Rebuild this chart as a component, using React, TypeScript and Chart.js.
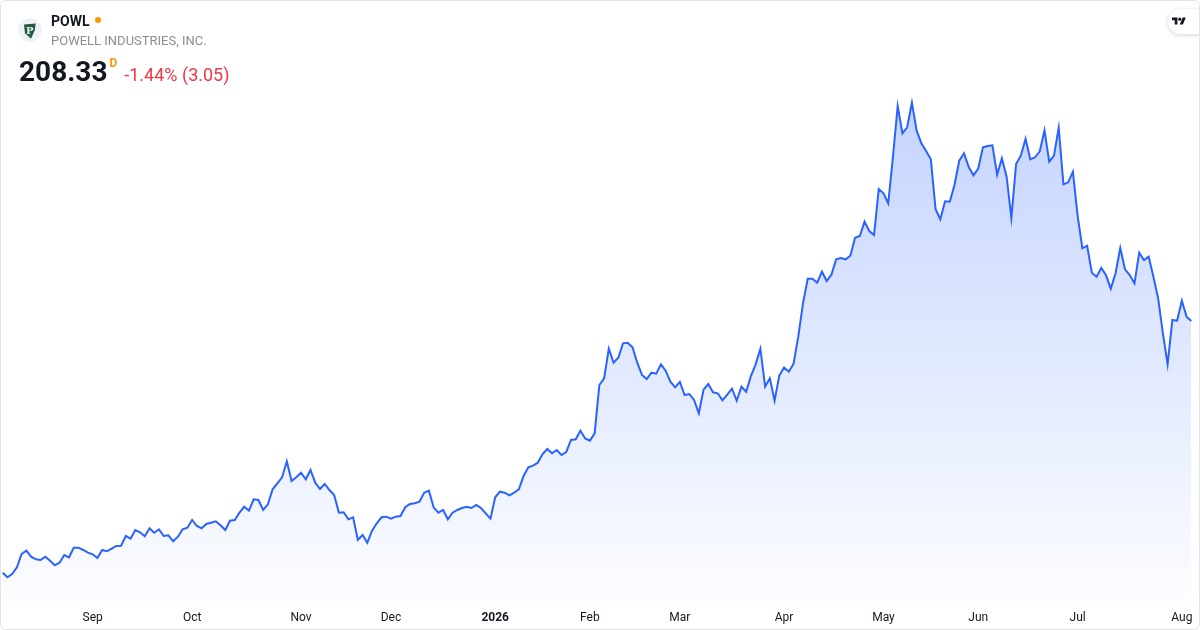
import React, { useEffect, useRef } from "react";
import { Chart, registerables } from "chart.js";

Chart.register(...registerables);

const ticker = "POWL";
const companyName = "POWELL INDUSTRIES, INC.";
const lastPrice = "208.33";
const changeText = "-1.44% (3.05)";

const prices: number[] = [
  32.14, 28.92, 31.23, 35.92, 45.23, 47.54, 43.34, 41.52, 41.03, 43.34,
  40.54, 37.32, 39.14, 44.53, 42.92, 49.64, 49.64, 48.03, 46.14, 45.02,
  42.43, 48.03, 47.12, 48.94, 50.83, 51.04, 57.83, 55.94, 62.03, 60.42,
  57.62, 63.22, 60.14, 62.52, 57.83, 58.32, 54.12, 57.34, 62.52, 63.64,
  69.03, 64.83, 63.22, 66.23, 67.14, 68.12, 65.32, 62.03, 68.54, 69.03,
  74.14, 78.34, 75.54, 83.52, 83.03, 76.03, 80.02, 90.52, 94.72, 98.92,
  110.12, 96.33, 98.92, 102.14, 97.52, 104.03, 95.14, 90.73, 94.23, 90.03,
  86.53, 74.14, 74.42, 69.52, 70.92, 55.03, 58.53, 53.14, 61.54, 66.72,
  70.92, 71.34, 69.94, 71.34, 71.83, 77.92, 80.23, 80.72, 81.84, 88.14,
  89.54, 77.92, 74.14, 76.03, 69.52, 74.14, 76.03, 77.43, 78.34, 77.43,
  79.53, 77.43, 73.72, 69.94, 84.92, 88.84, 88.14, 86.32, 88.14, 90.52,
  99.83, 105.92, 107.04, 109.14, 115.23, 118.73, 115.72, 118.03, 114.53, 116.63,
  125.03, 125.52, 131.54, 126.08, 124.54, 129.72, 163.53, 168.22, 188.94, 179.14,
  182.64, 192.72, 193.14, 189.92, 179.14, 170.53, 167.73, 172.14, 171.44, 178.02,
  173.54, 165.84, 161.92, 165.63, 156.53, 157.23, 153.03, 143.72, 160.24, 164.23,
  158.42, 157.72, 152.82, 156.74, 160.94, 152.54, 162.34, 158.84, 169.83, 178.02,
  188.94, 162.34, 168.22, 152.54, 170.18, 175.78, 172.84, 178.23, 197.34, 220.72,
  237.94, 237.94, 235.14, 242.84, 236.33, 240.74, 251.52, 252.43, 251.52, 254.04,
  266.64, 267.83, 277.84, 271.33, 268.53, 300.73, 297.72, 290.72, 323.34, 358.83,
  339.72, 343.92, 361.14, 341.54, 332.72, 327.33, 321.52, 286.52, 279.52, 292.12,
  291.84, 303.74, 320.54, 325.72, 316.13, 310.32, 315.08, 329.92, 330.83, 331.32,
  310.74, 322.22, 309.34, 280.43, 318.23, 324.04, 335.94, 321.52, 322.92, 327.12,
  341.82, 319.84, 324.04, 343.64, 304.02, 305.42, 312.84, 281.83, 259.22, 261.04,
  242.14, 239.34, 245.43, 240.32, 230.94, 241.72, 259.43, 244.52, 240.53, 234.72,
  256.14, 251.03, 253.34, 239.34, 224.22, 199.72, 178.02, 209.03, 208.54, 222.54,
  211.38, 208.33,
];

// index of the first trading day of each month, and its axis label
const monthStartIndex: number[] = [19, 40, 63, 82, 104, 124, 143, 165, 186, 206, 227, 249];
const monthLabels: string[] = ["Sep", "Oct", "Nov", "Dec", "2026", "Feb", "Mar", "Apr", "May", "Jun", "Jul", "Aug"];
const boldLabels: string[] = ["2026"];

const yMin = 10.23;
const yMax = 370.03;

const FONT = "Roboto, 'Open Sans', sans-serif";

function TVLogo() {
  return (
    <svg width="14" height="11" viewBox="0 0 36 28" style={{ position: "absolute", left: 1172, top: 16 }}>
      <path d="M14 22H7V11H0V4h14v18zM28 22h-8l7.5-18h8L28 22z" fill="#131722" />
      <circle cx="20" cy="8" r="4" fill="#131722" />
    </svg>
  );
}

function CompanyLogo() {
  return (
    <svg width="24" height="24" viewBox="0 0 24 24" style={{ position: "absolute", left: 18, top: 18 }}>
      <circle cx="12" cy="12" r="11.7" fill="#eef1f6" />
      <path d="M6 6.6 L17.6 5.6 L16.8 12.2 L13 20.7 L7 15.2 Z" fill="#1d5c42" />
      <text x="11.8" y="16" textAnchor="middle" fontSize="10" fontWeight="bold" fill="#eef2ee" fontFamily="'DejaVu Serif', serif">P</text>
    </svg>
  );
}

export default function App() {
  const canvasRef = useRef<HTMLCanvasElement | null>(null);

  useEffect(() => {
    const canvas = canvasRef.current;
    if (!canvas) return;
    const labels = prices.map((_, i) => String(i));
    const chart = new Chart(canvas, {
      type: "line",
      data: {
        labels,
        datasets: [
          {
            data: prices,
            borderColor: "#2962ff",
            borderWidth: 2,
            pointRadius: 0,
            pointHoverRadius: 0,
            tension: 0,
            fill: "start",
            backgroundColor: (ctx: any) => {
              const { chart } = ctx;
              const area = chart.chartArea;
              if (!area) return "rgba(41,98,255,0.1)";
              const g = chart.ctx.createLinearGradient(0, area.top, 0, area.bottom);
              g.addColorStop(0, "rgba(41,98,255,0.28)");
              g.addColorStop(1, "rgba(41,98,255,0.01)");
              return g;
            },
          },
        ],
      },
      options: {
        animation: false,
        responsive: false,
        devicePixelRatio: 1,
        layout: { padding: { left: 2.7, right: 8.7, top: 90, bottom: 0.6 } },
        plugins: { legend: { display: false }, tooltip: { enabled: false } },
        scales: {
          x: {
            type: "category",
            grid: { display: false, drawTicks: false },
            border: { display: false },
            ticks: {
              autoSkip: false,
              maxRotation: 0,
              minRotation: 0,
              padding: 7,
              color: "#131722",
              font: (ctx: any) => {
                const lbl = ctx.tick ? ctx.tick.label : "";
                return {
                  family: FONT,
                  size: 12,
                  weight: boldLabels.includes(lbl) ? "bold" : "normal",
                };
              },
              callback: (_v: any, index: number) => {
                const k = monthStartIndex.indexOf(index);
                return k >= 0 ? monthLabels[k] : null;
              },
            },
          },
          y: {
            display: false,
            min: yMin,
            max: yMax,
          },
        },
      },
    } as any);
    return () => chart.destroy();
  }, []);

  return (
    <div
      style={{
        position: "fixed",
        left: 0,
        top: 0,
        width: 1200,
        height: 630,
        background: "#ffffff",
        overflow: "hidden",
        fontFamily: FONT,
      }}
    >
      <canvas ref={canvasRef} width={1200} height={633} style={{ position: "absolute", left: 0, top: 0, width: 1200, height: 633 }} />
      <CompanyLogo />
      <div style={{ position: "absolute", left: 51, top: 12, fontSize: 14, fontWeight: 700, color: "#131722", lineHeight: "18px", whiteSpace: "nowrap" }}>
        {ticker}
        <span style={{ display: "inline-block", width: 6, height: 6, borderRadius: 3, background: "#ff9800", marginLeft: 5, verticalAlign: "middle", position: "relative", top: -2 }} />
      </div>
      <div style={{ position: "absolute", left: 51, top: 33, fontSize: 13, color: "#8a8d96", lineHeight: "16px", whiteSpace: "nowrap" }}>
        {companyName}
      </div>
      <div style={{ position: "absolute", left: 19, top: 55, whiteSpace: "nowrap", display: "flex", alignItems: "baseline" }}>
        <span style={{ fontSize: 28, fontWeight: 700, color: "#131722", lineHeight: "34px" }}>{lastPrice}</span>
        <span style={{ fontSize: 12, fontWeight: 700, color: "#ff9800", position: "relative", top: -14, marginLeft: 2 }}>D</span>
        <span style={{ fontSize: 18, color: "#f23645", marginLeft: 7 }}>{changeText}</span>
      </div>
      <div
        style={{
          position: "absolute",
          left: 1168,
          top: 9,
          width: 50,
          height: 25,
          borderRadius: 12,
          background: "#ffffff",
          boxShadow: "0 1px 4px rgba(0,0,0,0.18)",
        }}
      />
      <TVLogo />
      <div
        style={{
          position: "absolute",
          left: 0,
          top: 0,
          width: 1200,
          height: 630,
          boxSizing: "border-box",
          border: "1px solid #e0e3eb",
          borderRadius: 6,
          pointerEvents: "none",
        }}
      />
    </div>
  );
}
